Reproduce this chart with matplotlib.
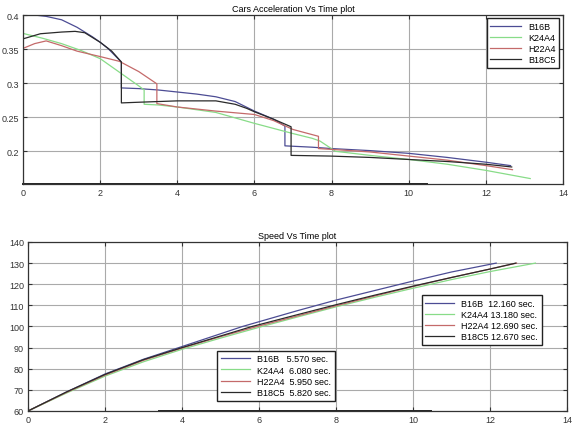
import matplotlib
matplotlib.use("Agg")
import matplotlib.pyplot as plt

plt.rcParams['font.family'] = ['Liberation Sans', 'DejaVu Sans']

cars = ['B16B', 'K24A4', 'H22A4', 'B18C5']
colors = ['#4c4c94', '#88dc88', '#c46a6a', '#2a2a2a']

# acceleration vs time (gear shifts show as vertical drops)
acc_t = {
    'B16B': [0, 0.3, 0.6, 1.0, 1.4, 1.8, 2.0, 2.2, 2.55, 2.55, 3.0, 3.5, 4.0, 4.5, 5.0,
             5.5, 6.0, 6.5, 6.79, 6.79, 7.5, 8.0, 9.0, 10.0, 11.0, 12.0, 12.64],
    'K24A4': [0, 0.5, 1.0, 1.5, 2.0, 2.5, 3.0, 3.14, 3.14, 3.5, 4.0, 5.0, 6.0, 7.0, 7.5,
              7.7, 8.1, 9.0, 10.0, 11.0, 12.0, 13.15],
    'H22A4': [0, 0.3, 0.6, 1.0, 1.4, 2.0, 2.5, 3.0, 3.47, 3.47, 4.0, 5.0, 6.0, 6.5, 7.0,
              7.66, 7.66, 8.5, 9.0, 10.0, 11.0, 12.0, 12.69],
    'B18C5': [0, 0.45, 1.0, 1.35, 1.6, 2.0, 2.3, 2.55, 2.55, 3.0, 3.5, 4.0, 4.5, 5.0, 5.5,
              5.8, 6.0, 6.5, 6.95, 6.95, 7.96, 9.0, 10.0, 11.0, 12.0, 12.67],
}
acc_g = {
    'B16B': [0.400, 0.400, 0.398, 0.393, 0.382, 0.368, 0.360, 0.351, 0.331, 0.293, 0.292,
             0.290, 0.287, 0.284, 0.280, 0.273, 0.259, 0.247, 0.237, 0.208, 0.206, 0.204,
             0.201, 0.197, 0.191, 0.184, 0.179],
    'K24A4': [0.373, 0.366, 0.358, 0.348, 0.336, 0.316, 0.296, 0.290, 0.269, 0.268, 0.265,
              0.257, 0.241, 0.226, 0.219, 0.215, 0.200, 0.194, 0.188, 0.181, 0.172, 0.160],
    'H22A4': [0.351, 0.358, 0.362, 0.355, 0.347, 0.339, 0.332, 0.317, 0.299, 0.270, 0.265,
              0.259, 0.254, 0.245, 0.232, 0.222, 0.204, 0.201, 0.199, 0.193, 0.187, 0.179,
              0.173],
    'B18C5': [0.365, 0.3725, 0.375, 0.376, 0.374, 0.360, 0.347, 0.331, 0.271, 0.272, 0.273,
              0.274, 0.274, 0.274, 0.269, 0.263, 0.258, 0.247, 0.236, 0.194, 0.193, 0.191,
              0.188, 0.185, 0.181, 0.177],
}

# speed vs time
spd_t = {
    'B16B': [0, 1, 2, 3, 4, 5.57, 7, 8, 9, 10, 11, 12.16],
    'K24A4': [0, 1, 2, 3, 4, 5, 6.08, 7, 8, 9, 10, 11, 12, 13.18],
    'H22A4': [0, 1, 2, 3, 4, 5, 5.95, 7, 8, 9, 10, 11, 12, 12.69],
    'B18C5': [0, 1, 2, 3, 4, 5, 5.82, 7, 8, 9, 10, 11, 12, 12.67],
}
spd_v = {
    'B16B': [60, 69, 77.5, 84.5, 90.5, 100, 107.5, 112.5, 117, 121.5, 125.8, 130],
    'K24A4': [60, 68.5, 76.5, 83.3, 89.2, 94.5, 100, 104.5, 109.3, 113.8, 118.1, 122.2, 126, 130],
    'H22A4': [60, 68.8, 77, 84, 89.8, 95.2, 100, 105, 109.8, 114.4, 118.9, 123.2, 127.2, 130],
    'B18C5': [60, 69, 77.3, 84.3, 90, 95.5, 100, 105.6, 110.3, 114.8, 119.1, 123.2, 127.2, 130],
}
t100 = [5.570, 6.080, 5.950, 5.820]
t130 = [12.160, 13.180, 12.690, 12.670]

fs = 6.5
fig = plt.figure(figsize=(5.8, 4.35), dpi=100)
ax1 = fig.add_axes([0.0397, 0.5747, 0.931, 0.3885])
ax2 = fig.add_axes([0.0483, 0.0529, 0.9293, 0.3885])


def style(ax):
    ax.grid(True, color='#aaaaaa', lw=0.8)
    ax.set_axisbelow(True)
    ax.tick_params(direction='in', length=3, labelsize=fs, top=True, right=True,
                   colors='#333333', pad=3)
    for s in ax.spines.values():
        s.set_color('#333333')
        s.set_linewidth(0.9)


for i, c in enumerate(cars):
    ax1.plot(acc_t[c], acc_g[c], color=colors[i], lw=0.9, label=c)
ax1.set_xlim(0, 14)
ax1.set_ylim(0.152, 0.4)
ax1.set_xticks(range(0, 15, 2))
ax1.set_yticks([0.2, 0.25, 0.3, 0.35, 0.4])
ax1.set_yticklabels(['0.2', '0.25', '0.3', '0.35', '0.4'])
ax1.plot([0, 10.48], [0.152, 0.152], color='#222222', lw=1.4, clip_on=False)
style(ax1)
ax1.set_title('Cars Acceleration Vs Time plot', fontsize=fs, pad=3)
ax1.legend(loc='upper right', bbox_to_anchor=(0.993, 0.982), borderaxespad=0,
           fontsize=fs, fancybox=False, edgecolor='#222222', framealpha=1,
           handlelength=3.4, labelspacing=0.25, borderpad=0.4)

lines = []
for i, c in enumerate(cars):
    ln, = ax2.plot(spd_t[c], spd_v[c], color=colors[i], lw=0.9)
    lines.append(ln)
ax2.set_xlim(0, 14)
ax2.set_ylim(60, 140)
ax2.set_xticks(range(0, 15, 2))
ax2.set_yticks(range(60, 141, 10))
ax2.plot([3.4, 10.48], [60, 60], color='#222222', lw=1.4, clip_on=False)
style(ax2)
ax2.set_title('Speed Vs Time plot', fontsize=fs, pad=3)

lab100 = [f"{c:<5s} {t:6.3f} sec." for c, t in zip(cars, t100)]
lab130 = [f"{c:<5s} {t:6.3f} sec." for c, t in zip(cars, t130)]
leg_kw = dict(fontsize=fs, fancybox=False, edgecolor='#222222', framealpha=1,
              handlelength=3.2, labelspacing=0.25, borderpad=0.4, borderaxespad=0)
leg1 = ax2.legend(lines, lab100, loc='lower left', bbox_to_anchor=(0.351, 0.061), **leg_kw)
ax2.add_artist(leg1)
ax2.legend(lines, lab130, loc='upper right', bbox_to_anchor=(0.953, 0.686), **leg_kw)

fig.savefig('out.png', dpi=100)
